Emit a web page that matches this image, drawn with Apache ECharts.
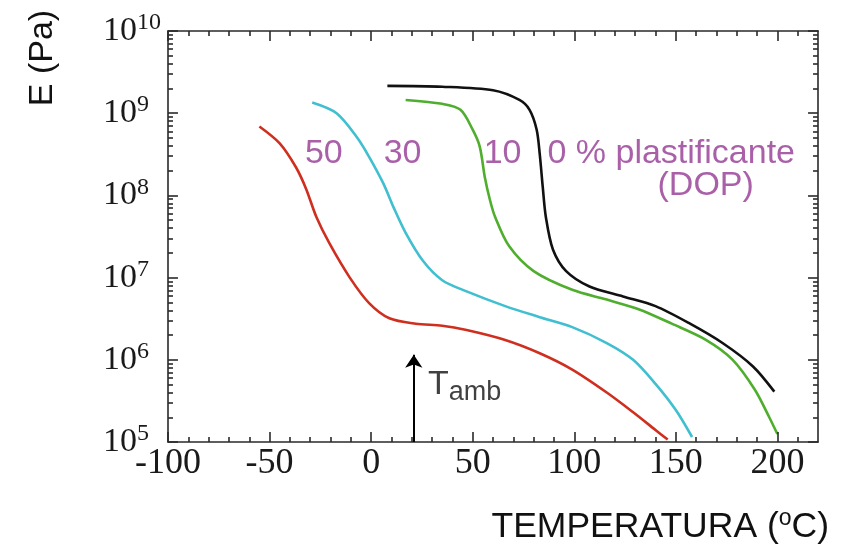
<!DOCTYPE html>
<html>
<head>
<meta charset="utf-8">
<script src="https://cdn.jsdelivr.net/npm/echarts@6/dist/echarts.min.js"></script>
<style>
html,body{margin:0;padding:0;background:#fff;}
#chart{width:852px;height:550px;}
</style>
</head>
<body>
<div id="chart"></div>
<script>
// ---- Data (T in °C, E in Pa) ----
const redT = [-55, -45, -37, -32, -27, -20.5, -10.5, -1, 9, 22, 35, 47, 66, 83, 99, 116, 129, 140, 146];
const redE = [6.9e8, 4.3e8, 2.2e8, 1.2e8, 5.5e7, 2.6e7, 1.0e7, 4.9e6, 3.2e6, 2.75e6, 2.6e6, 2.3e6, 1.74e6, 1.2e6, 7.6e5, 4.0e5, 2.3e5, 1.4e5, 1.07e5];

const cyanT = [-29, -17, -7, -1, 6, 11, 17, 25.5, 35, 47, 66, 83, 99, 116, 129, 140, 150, 158];
const cyanE = [1.35e9, 1.0e9, 5.1e8, 2.95e8, 1.4e8, 7.2e7, 3.5e7, 1.6e7, 9.3e6, 6.8e6, 4.5e6, 3.3e6, 2.5e6, 1.6e6, 1.0e6, 5.1e5, 2.45e5, 1.15e5];

const greenT = [17, 35, 44, 50, 53.5, 56, 58.5, 61, 68, 80, 99, 116, 132, 148, 165, 178, 189, 196, 200];
const greenE = [1.45e9, 1.3e9, 1.1e9, 6.3e8, 3.9e8, 1.65e8, 8.8e7, 5.5e7, 2.4e7, 1.2e7, 7.1e6, 5.4e6, 4.1e6, 2.75e6, 1.74e6, 1.0e6, 4.3e5, 2.0e5, 1.25e5];

const blackT = [8, 35, 60, 73, 78, 81.5, 83, 84.5, 86, 89.5, 96, 107.5, 124, 140, 157, 173, 188, 198.5];
const blackE = [2.15e9, 2.1e9, 1.9e9, 1.45e9, 1.1e9, 6.3e8, 3.2e8, 1.26e8, 5.5e7, 2.2e7, 1.2e7, 7.8e6, 5.9e6, 4.5e6, 2.75e6, 1.6e6, 8.3e5, 4.1e5];

// tick labels
const xTickLabels = [-100, -50, 0, 50, 100, 150, 200];
const yTickValues = [1e5, 1e6, 1e7, 1e8, 1e9, 1e10];
const yTickExps = ['5', '6', '7', '8', '9', '10'];

// annotations
const annotTexts = ['50', '30', '10', '0 % plastificante', '(DOP)'];
const annotT = [-23.3, 15.5, 64.7, 86.8, 164.7];
const annotE = [3.2e8, 3.2e8, 3.2e8, 3.2e8, 1.3e8];
const tAmb = 21;
const tAmbArrowE = [1.001e5, 1.15e6];
const tAmbLabelPos = [28, 5.0e5];

// ---- build ----
const X_MIN = -100, X_MAX = 220, Y_MIN = 1e5, Y_MAX = 1e10;
// frame edges, nudged a hair inside so marker filtering keeps them
const Y_LO = Y_MIN * 1.002, Y_HI = Y_MAX / 1.002, X_LO = X_MIN + 0.02, X_HI = X_MAX - 0.02;
const xMinor = [];
for (let v = -90; v <= 210; v += 10) { if (xTickLabels.indexOf(v) < 0) xMinor.push(v); }
const yMinor = [];
for (let d = 5; d <= 9; d++) { for (let k = 2; k <= 9; k++) yMinor.push(k * Math.pow(10, d)); }

// inward tick lengths expressed in axis units (≈10 px major, ≈5 px minor)
const TICK_T_MAJOR = 4.9, TICK_T_MINOR = 2.45;     // along temperature axis
const TICK_F_MAJOR = 1.32, TICK_F_MINOR = 1.15;    // multiplicative along log modulus axis

const zip = (a, b) => a.map((v, i) => [v, b[i]]);
const AX = '#2a2a2a';

const tickLines = [];
xTickLabels.forEach(v => {
  const x = Math.min(Math.max(v, X_LO), X_HI);
  tickLines.push([{coord: [x, Y_LO]}, {coord: [x, Y_MIN * TICK_F_MAJOR]}]);
  tickLines.push([{coord: [x, Y_HI]}, {coord: [x, Y_MAX / TICK_F_MAJOR]}]);
});
xMinor.forEach(v => {
  tickLines.push([{coord: [v, Y_LO]}, {coord: [v, Y_MIN * TICK_F_MINOR]}]);
  tickLines.push([{coord: [v, Y_HI]}, {coord: [v, Y_MAX / TICK_F_MINOR]}]);
});
yTickValues.forEach(v => {
  const y = Math.min(Math.max(v, Y_LO), Y_HI);
  tickLines.push([{coord: [X_LO, y]}, {coord: [X_MIN + TICK_T_MAJOR, y]}]);
  tickLines.push([{coord: [X_HI, y]}, {coord: [X_MAX - TICK_T_MAJOR, y]}]);
});
yMinor.forEach(v => {
  tickLines.push([{coord: [X_LO, v]}, {coord: [X_MIN + TICK_T_MINOR, v]}]);
  tickLines.push([{coord: [X_HI, v]}, {coord: [X_MAX - TICK_T_MINOR, v]}]);
});

const chart = echarts.init(document.getElementById('chart'), null, {renderer: 'canvas'});

function lineSeries(name, T, E, color) {
  return {
    name, type: 'line', xAxisIndex: 0, yAxisIndex: 0,
    data: zip(T, E), showSymbol: false, symbol: 'none',
    smooth: 0.3,
    lineStyle: {color, width: 2.6}, itemStyle: {color},
    silent: true, z: 3
  };
}

const annotData = annotTexts.map((t, i) => ({
  value: [annotT[i], annotE[i]], name: t,
  label: {align: i === 3 ? 'left' : 'center'}
}));

const lineAx = {show: true, onZero: false, lineStyle: {color: AX, width: 1.6}};

const option = {
  animation: false,
  backgroundColor: '#ffffff',
  grid: {left: 168, right: 34, top: 31, bottom: 108, containLabel: false, outerBoundsMode: 'none'},
  xAxis: [
    {
      type: 'value', min: X_MIN, max: X_MAX, interval: 50, position: 'bottom',
      splitLine: {show: false}, axisLine: lineAx, axisTick: {show: false},
      axisLabel: {show: true, customValues: xTickLabels, margin: 4,
        fontFamily: 'Liberation Serif', fontSize: 36, color: '#1a1a1a'}
    },
    {
      type: 'value', min: X_MIN, max: X_MAX, interval: 50, position: 'top',
      splitLine: {show: false}, axisLine: lineAx, axisTick: {show: false}, axisLabel: {show: false}
    }
  ],
  yAxis: [
    {
      type: 'log', logBase: 10, min: Y_MIN, max: Y_MAX, position: 'left',
      splitLine: {show: false}, axisLine: lineAx, axisTick: {show: false},
      axisLabel: {
        show: true, customValues: yTickValues, margin: 65, align: 'left',
        formatter: function (v) {
          let idx = 0, best = Infinity;
          yTickValues.forEach((m, i) => { const d = Math.abs(Math.log10(v) - Math.log10(m)); if (d < best) { best = d; idx = i; } });
          return '{b|10}{s|' + yTickExps[idx] + '}';
        },
        rich: {
          b: {fontFamily: 'Liberation Serif', fontSize: 34, lineHeight: 40, verticalAlign: 'middle', color: '#1a1a1a'},
          s: {fontFamily: 'Liberation Serif', fontSize: 24, lineHeight: 14, verticalAlign: 'top', color: '#1a1a1a'}
        }
      }
    },
    {
      type: 'log', logBase: 10, min: Y_MIN, max: Y_MAX, position: 'right',
      splitLine: {show: false}, axisLine: lineAx, axisTick: {show: false}, axisLabel: {show: false}
    }
  ],
  series: [
    lineSeries('50', redT, redE, '#cf2f1f'),
    lineSeries('30', cyanT, cyanE, '#3fbfcf'),
    lineSeries('10', greenT, greenE, '#4fae2e'),
    lineSeries('0', blackT, blackE, '#111111'),
    {
      // frame ticks
      type: 'scatter', xAxisIndex: 0, yAxisIndex: 0, silent: true, z: 4,
      symbolSize: 0.1, itemStyle: {color: 'rgba(0,0,0,0)'},
      data: [[0, 1e7]],
      markLine: {
        silent: true, animation: false, symbol: ['none', 'none'],
        label: {show: false},
        lineStyle: {color: AX, width: 1.6, type: 'solid'},
        data: tickLines
      }
    },
    {
      type: 'scatter', xAxisIndex: 0, yAxisIndex: 0, silent: true, z: 5,
      symbolSize: 0.1, itemStyle: {color: 'rgba(0,0,0,0)'},
      data: annotData,
      label: {
        show: true, position: 'inside', formatter: p => p.name,
        fontFamily: 'Liberation Sans', fontSize: 34, color: '#943894', verticalAlign: 'middle'
      },
      markLine: {
        silent: true, animation: false,
        symbol: ['none', 'arrow'], symbolSize: 13,
        label: {show: false},
        lineStyle: {color: '#000', width: 2, type: 'solid'},
        data: [[{coord: [tAmb, tAmbArrowE[0]]}, {coord: [tAmb, tAmbArrowE[1]]}]]
      }
    },
    {
      type: 'scatter', xAxisIndex: 0, yAxisIndex: 0, silent: true, z: 5,
      symbolSize: 0.1, itemStyle: {color: 'rgba(0,0,0,0)'},
      data: [{value: tAmbLabelPos, name: 'Tamb'}],
      label: {
        show: true, position: 'inside', align: 'left', verticalAlign: 'middle',
        formatter: '{t|T}{s|amb}',
        rich: {
          t: {fontFamily: 'Liberation Sans', fontSize: 34, lineHeight: 34, verticalAlign: 'top', color: '#111'},
          s: {fontFamily: 'Liberation Sans', fontSize: 27, lineHeight: 34, padding: [12, 0, 0, 0], verticalAlign: 'top', color: '#111'}
        }
      }
    }
  ],
  graphic: [
    {
      type: 'text', x: 43, y: 58, rotation: Math.PI / 2, silent: true,
      style: {text: 'E (Pa)', align: 'center', verticalAlign: 'middle', font: '34px "Liberation Sans"', fill: '#111'}
    },
    {
      type: 'text', x: 829, y: 527, silent: true,
      style: {
        text: '{a|TEMPERATURA (}{o|o}{a|C)}', align: 'right', verticalAlign: 'middle',
        rich: {
          a: {fontFamily: 'Liberation Sans', fontSize: 35.5, lineHeight: 40, verticalAlign: 'middle', fill: '#111', color: '#111'},
          o: {fontFamily: 'Liberation Sans', fontSize: 23, lineHeight: 24, verticalAlign: 'top', fill: '#111', color: '#111'}
        }
      }
    }
  ]
};
chart.setOption(option);
</script>
</body>
</html>
